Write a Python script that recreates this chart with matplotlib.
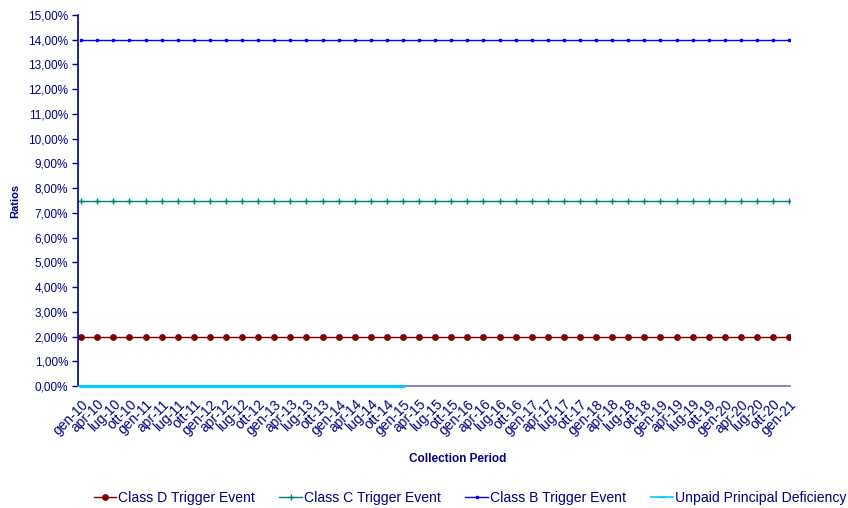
import matplotlib
matplotlib.use("Agg")
import matplotlib.pyplot as plt
from matplotlib.ticker import FuncFormatter, MultipleLocator
import numpy as np

plt.rcParams['font.family'] = ['Liberation Sans', 'DejaVu Sans']

# Quarterly collection periods gen-10 .. gen-21
months = ["gen", "apr", "lug", "ott"]
periods = [f"{months[q]}-{y:02d}" for y in range(10, 21) for q in range(4)] + ["gen-21"]
n = len(periods)

class_d = [2.0] * n
class_c = [7.5] * n
class_b = [14.0] * n
unpaid = [0.0] * 21 + [np.nan] * (n - 21)

navy = "#000080"
fig = plt.figure(figsize=(8.48, 5.08), dpi=100)
ax = fig.add_axes([78/848, 1-386/508, (790-78)/848, (386-15)/508])
x = np.arange(n)

ax.plot(x, class_d, color="#800000", lw=1.0, marker="o", ms=3.9, label="Class D Trigger Event")
ax.plot(x, class_c, color="#008080", lw=1.0, marker="+", ms=5, mew=1.0, label="Class C Trigger Event")
ax.plot(x, class_b, color="#0000FF", lw=1.0, marker="s", ms=2, label="Class B Trigger Event")
ax.plot(x, unpaid, color="#00CCFF", lw=2.2, marker="_", ms=4, label="Unpaid Principal Deficiency",
        clip_on=False, zorder=5)

ax.set_xlim(-0.2, n - 1 + 0.05)
ax.set_ylim(0, 15)
ax.yaxis.set_major_locator(MultipleLocator(1))
ax.yaxis.set_major_formatter(FuncFormatter(lambda v, p: f"{v:.2f}%".replace('.', ',')))
ax.set_xticks(x)
ax.set_xticklabels(periods, rotation=45, ha="right", rotation_mode="anchor", fontsize=10, color=navy)
ax.tick_params(axis="x", length=0, pad=8)
ax.tick_params(axis="y", length=4, width=1, color=navy, labelsize=8.5, labelcolor=navy, pad=3)

for s in ["top", "right"]:
    ax.spines[s].set_visible(False)
ax.spines["left"].set_color(navy)
ax.spines["left"].set_linewidth(1.2)
ax.spines["bottom"].set_color("#7070B8")
ax.spines["bottom"].set_linewidth(1.2)

ax.set_ylabel("Ratios", fontsize=8, fontweight="bold", color=navy, labelpad=6)
fig.text(458/848, 1-459/508, "Collection Period", fontsize=8.5, fontweight="bold", color=navy,
         ha="center", va="center")

leg = fig.legend(loc="center", bbox_to_anchor=(470/848, 1-498/508), ncol=4, frameon=False,
                 fontsize=10.1, handlelength=1.6, handletextpad=0.15, columnspacing=1.75,
                 borderaxespad=0, borderpad=0)
for t in leg.get_texts():
    t.set_color(navy)
leg.get_lines()[3].set_linewidth(1.2)

fig.savefig("out.png", dpi=100)
